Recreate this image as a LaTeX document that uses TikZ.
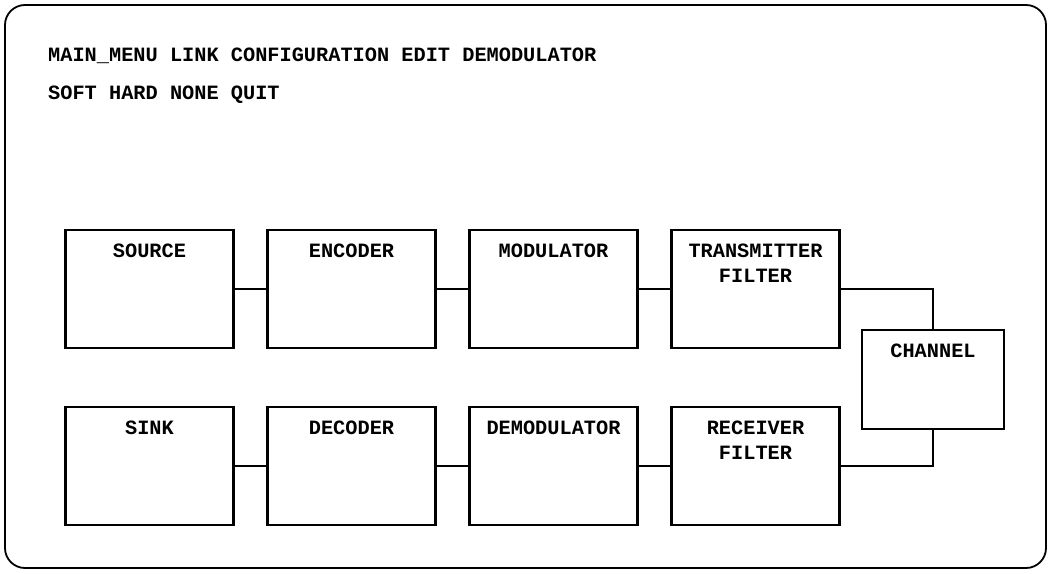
\documentclass[tikz,border=0pt]{standalone}
\usepackage{fontspec}
\setmonofont{Liberation Mono}
\usetikzlibrary{positioning}

\begin{document}
\begin{tikzpicture}[
    x=1pt, y=-1pt,
    node distance=59pt and 34pt,
    font=\ttfamily\bfseries\fontsize{20.3}{25}\selectfont,
    blk/.style={rectangle, draw=black, line width=2.3pt, minimum width=168pt, minimum height=118pt, inner sep=0pt, outer sep=0pt},
    lbl/.style={anchor=north, yshift=-14pt, inner sep=0pt, align=center},
    menu/.style={anchor=base west, inner sep=0pt},
    wire/.style={draw=black, line width=2.3pt}
]
\useasboundingbox (0,0) rectangle (1051,573);

% --- FRAME ---
\draw [line width=1.8pt, rounded corners=20pt] (5,5) rectangle (1046,568);

% --- MENU ---
\node (menuA) [menu] at (48,61) {MAIN\_MENU LINK CONFIGURATION EDIT DEMODULATOR};
\node (menuB) [menu] at (48,99) {SOFT HARD NONE QUIT};

% --- NODES ---
\node (src) [blk, label={[lbl]north:SOURCE}] at (149.5,289) {};
\node (enc) [blk, right=of src, label={[lbl]north:ENCODER}] {};
\node (mod) [blk, right=of enc, label={[lbl]north:MODULATOR}] {};
\node (txf) [blk, right=of mod, label={[lbl]north:TRANSMITTER\\FILTER}] {};

\node (snk) [blk, below=of src, label={[lbl]north:SINK}] {};
\node (dec) [blk, right=of snk, label={[lbl]north:DECODER}] {};
\node (dem) [blk, right=of dec, label={[lbl]north:DEMODULATOR}] {};
\node (rxf) [blk, right=of dem, label={[lbl]north:RECEIVER\\FILTER}] {};

\node (chn) [blk, minimum width=142pt, minimum height=99pt, label={[lbl]north:CHANNEL}] at (933,379.5) {};

% --- CONNECTIONS ---
\draw [wire] (src) -- (enc);
\draw [wire] (enc) -- (mod);
\draw [wire] (mod) -- (txf);
\draw [wire] (txf.east) -| (chn.north);

\draw [wire] (chn.south) |- (rxf.east);
\draw [wire] (rxf) -- (dem);
\draw [wire] (dem) -- (dec);
\draw [wire] (dec) -- (snk);

\end{tikzpicture}
\end{document}
